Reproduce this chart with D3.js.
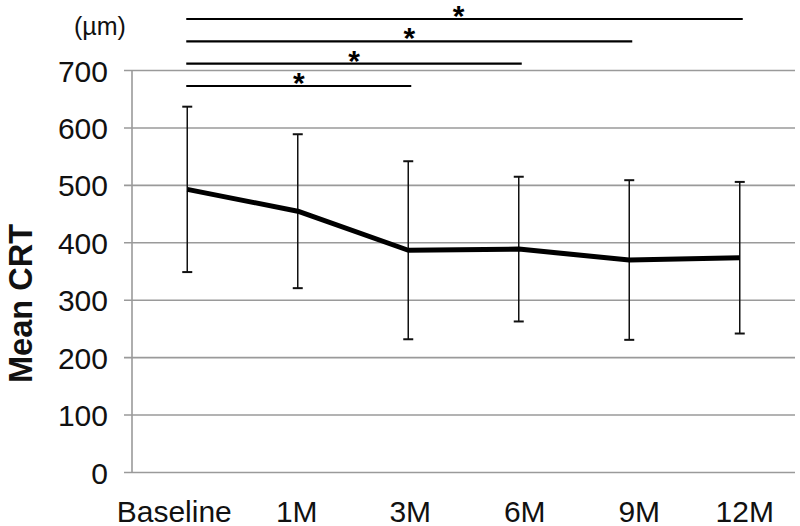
<!DOCTYPE html>
<html>
<head>
<meta charset="utf-8">
<script src="https://cdn.jsdelivr.net/npm/d3@7"></script>
<style>
  html, body { margin: 0; padding: 0; background: #fff; }
  svg { display: block; }
  text { font-family: "Liberation Sans", Arial, sans-serif; }
</style>
</head>
<body>
<svg id="chart" width="800" height="526"></svg>
<script>
// ---- data ----
const categories = ["Baseline", "1M", "3M", "6M", "9M", "12M"];
const meanCRT = [493, 455, 387, 389, 370, 374];
const sdCRT = [144, 134, 155, 126, 139, 132];
const yTicks = [0, 100, 200, 300, 400, 500, 600, 700];
const comparisons = [
  ["Baseline", "3M"],
  ["Baseline", "6M"],
  ["Baseline", "9M"],
  ["Baseline", "12M"]
];
const sigLabels = ["*", "*", "*", "*"];
const yTitle = "Mean CRT";
const unitLabel = "(µm)";

(function () {
// ---- layout ----
const svg = d3.select("#chart");
const mLeft = 132, mRight = 795, mTop = 70.5, mBottom = 472.5;

const x = d3.scaleBand().domain(categories).range([mLeft, mRight]).padding(0);
const cx = c => x(c) + x.bandwidth() / 2;
const y = d3.scaleLinear().domain([0, 700]).range([mBottom, mTop]);

const grey = "#9a9a9a";

// gridlines (including ticks extending left)
svg.append("g")
  .selectAll("line")
  .data(yTicks)
  .join("line")
  .attr("x1", mLeft - 8).attr("x2", mRight)
  .attr("y1", d => y(d)).attr("y2", d => y(d))
  .attr("stroke", grey).attr("stroke-width", 1.6);

// y axis line
svg.append("line")
  .attr("x1", mLeft).attr("x2", mLeft)
  .attr("y1", y(700)).attr("y2", y(0))
  .attr("stroke", grey).attr("stroke-width", 1.6);

// y tick labels via axis
const yAxis = d3.axisLeft(y).tickValues(yTicks).tickSize(0).tickPadding(24);
const gy = svg.append("g").attr("transform", `translate(${mLeft},0)`).call(yAxis);
gy.select(".domain").remove();
gy.selectAll("text")
  .attr("font-size", 30)
  .attr("font-family", "Liberation Sans, Arial, sans-serif")
  .attr("fill", "#111")
  .attr("dy", "0.35em");

// x tick labels via axis
const xLabelShift = {"Baseline": -13, "1M": -1, "3M": 2, "6M": 6, "9M": 10, "12M": 5};
const xAxis = d3.axisBottom(x).tickSize(0).tickPadding(0);
const gx = svg.append("g").attr("transform", `translate(0,${mBottom})`).call(xAxis);
gx.select(".domain").remove();
gx.selectAll("text")
  .attr("font-size", 30)
  .attr("font-family", "Liberation Sans, Arial, sans-serif")
  .attr("fill", "#111")
  .attr("y", 49)
  .attr("dy", 0)
  .attr("dx", d => xLabelShift[d] || 0);

// y axis title
svg.append("text")
  .attr("transform", `translate(32,${(224 + 383) / 2}) rotate(-90)`)
  .attr("text-anchor", "middle")
  .attr("font-size", 34)
  .attr("font-weight", "bold")
  .attr("fill", "#111")
  .attr("textLength", 159)
  .attr("lengthAdjust", "spacingAndGlyphs")
  .text(yTitle);

// unit label
svg.append("text")
  .attr("x", 74).attr("y", 35)
  .attr("font-size", 25)
  .attr("fill", "#111")
  .text(unitLabel);

// error bars
const data = categories.map((c, i) => ({c, m: meanCRT[i], sd: sdCRT[i]}));
const eb = svg.append("g").attr("stroke", "#111").attr("stroke-width", 1.5);
data.forEach(d => {
  const xc = cx(d.c);
  eb.append("line").attr("x1", xc).attr("x2", xc)
    .attr("y1", y(d.m + d.sd)).attr("y2", y(d.m - d.sd));
  [d.m + d.sd, d.m - d.sd].forEach(v => {
    eb.append("line").attr("x1", xc - 5).attr("x2", xc + 5)
      .attr("y1", y(v)).attr("y2", y(v)).attr("stroke-width", 2);
  });
});

// mean line
const line = d3.line().x(d => cx(d.c)).y(d => y(d.m));
svg.append("path")
  .datum(data)
  .attr("d", line)
  .attr("fill", "none")
  .attr("stroke", "#000")
  .attr("stroke-width", 5)
  .attr("stroke-linejoin", "round");

// significance brackets
const sigY = d3.scaleLinear().domain([0, 3]).range([86, 19]);
comparisons.forEach((pair, i) => {
  const x1 = cx(pair[0]) - 1, x2 = cx(pair[1]) + 3;
  const yy = sigY(i);
  svg.append("line")
    .attr("x1", x1).attr("x2", x2)
    .attr("y1", yy).attr("y2", yy)
    .attr("stroke", "#000").attr("stroke-width", 2.2);
  svg.append("text")
    .attr("x", (x1 + x2) / 2 - (i === 3 ? 6 : 0))
    .attr("y", yy + 7)
    .attr("text-anchor", "middle")
    .attr("font-size", 30)
    .attr("font-weight", "bold")
    .attr("fill", "#000")
    .text(sigLabels[i]);
});
})();
</script>
</body>
</html>
